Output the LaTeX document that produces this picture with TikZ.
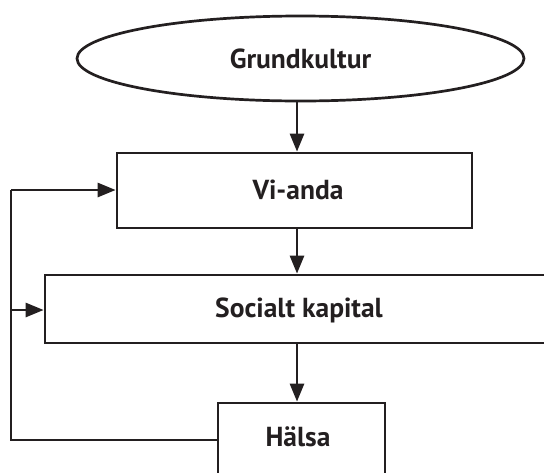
\documentclass[tikz,border=0pt]{standalone}
\usepackage{fontspec}
\setmainfont{PT Sans}
\usetikzlibrary{shapes.geometric,arrows.meta}
\definecolor{ink}{HTML}{231F20}
\tikzset{
  lbl/.style={font=\bfseries\fontsize{27.5}{32}\selectfont, text=ink},
  box/.style={draw=ink, line width=2.7pt, rectangle, inner sep=0pt, lbl},
  oval/.style={draw=ink, line width=2.7pt, ellipse, inner sep=0pt, lbl},
  conn/.style={draw=ink, line width=2.7pt, -{Triangle[length=18pt,width=14pt]}},
  plain/.style={draw=ink, line width=2.7pt}
}
\begin{document}
\begin{tikzpicture}[x=1pt,y=-1pt]
\clip (0,0) rectangle (544,472);
\useasboundingbox (0,0) rectangle (544,472);
\node[oval, minimum width=447pt, minimum height=85pt] (g) at (300.5,58.5) {Grundkultur};
\node[box, minimum width=355pt, minimum height=75pt] (v) at (294.5,190.5) {};
\node[lbl] (vl) at (298,190) {Vi-anda};
\node[box, minimum width=555pt, minimum height=68pt] (s) at (322.5,309) {};
\node[lbl] (sl) at (299,310) {Socialt kapital};
\node[box, minimum width=167pt, minimum height=97pt] (h) at (301.5,451.5) {};
\node[lbl] (hl) at (298,437) {Hälsa};
\coordinate (c1) at (11,440);
\coordinate (c2) at (11,190);
\coordinate (c3) at (11,310);
\draw[conn] (g.south -| 297,0) -- (v.north -| 297,0);
\draw[conn] (v.south -| 297,0) -- (s.north -| 297,0);
\draw[conn] (s.south -| 297,0) -- (h.north -| 297,0);
\draw[plain] (h.west |- c1) -- (c1) -- (c2);
\draw[conn] (c2) -- (v.west |- c2);
\draw[conn] (c3) -- (s.west |- c3);
\end{tikzpicture}
\end{document}
